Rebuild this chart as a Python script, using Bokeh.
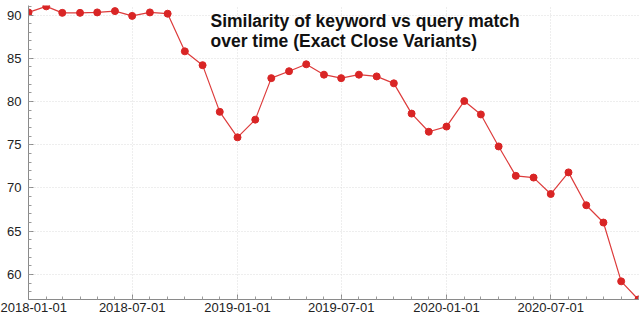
import datetime as dt
import pandas as pd
from bokeh.plotting import figure
from bokeh.models import (Range1d, FixedTicker, SingleIntervalTicker, DatetimeTickFormatter,
                          Label, ColumnDataSource)
from bokeh.embed import file_html
from bokeh.resources import INLINE

# ---- data ----
months = pd.date_range("2018-01-01", "2020-12-01", freq="MS")
similarity = [90.3, 91.0, 90.25, 90.25, 90.3, 90.45, 89.9, 90.3, 90.15,
              85.8, 84.2, 78.8,
              75.85, 77.9, 82.7, 83.5, 84.3, 83.1, 82.7, 83.1, 82.9, 82.1, 78.6, 76.5,
              77.1, 80.05, 78.5, 74.8, 71.4, 71.2, 69.3, 71.8, 68.0, 66.0, 59.2, 57.1]
x_major_ticks = ["2018-01-01", "2018-07-01", "2019-01-01", "2019-07-01",
                 "2020-01-01", "2020-07-01"]
title_text = "Similarity of keyword vs query match\nover time (Exact Close Variants)"

def to_ms(d):
    return pd.Timestamp(d).value // 10**6

src = ColumnDataSource(dict(date=months, sim=similarity))

p = figure(width=639, height=318, x_axis_type="datetime",
           output_backend="svg", toolbar_location=None,
           x_range=Range1d(months[0], months[-1] + dt.timedelta(days=2)),
           y_range=Range1d(57.1, 91.1),
           min_border_left=28, min_border_right=0, min_border_top=5,
           min_border_bottom=19)
p.outline_line_color = None
p.background_fill_color = "white"
p.border_fill_color = "white"

p.line("date", "sim", source=src, line_color="#dd3c3c", line_width=1.2)
p.scatter("date", "sim", source=src, size=7, fill_color="#d92525",
          line_color="#d92525")

# axes
xa = p.xaxis[0]
xa.ticker = FixedTicker(ticks=[to_ms(d) for d in x_major_ticks],
                        minor_ticks=[to_ms(d) for d in months])
xa.formatter = DatetimeTickFormatter(months="%Y-%m-%d", days="%Y-%m-%d")
ya = p.yaxis[0]
ya.ticker = SingleIntervalTicker(interval=5, num_minor_ticks=5)

for ax in (xa, ya):
    ax.axis_line_color = "#8a8a8a"
    ax.major_tick_line_color = "#8a8a8a"
    ax.minor_tick_line_color = "#9a9a9a"
    ax.major_tick_in = 5
    ax.major_tick_out = 0
    ax.minor_tick_in = 3
    ax.minor_tick_out = 0
    ax.major_label_text_font = "Liberation Sans"
    ax.major_label_text_font_size = "13px"
    ax.major_label_text_color = "#222222"
xa.major_label_standoff = 3
ya.major_label_standoff = 7

for g in (p.xgrid[0], p.ygrid[0]):
    g.grid_line_color = "#dddddd"
    g.grid_line_dash = "1 2"
    g.grid_line_width = 1

p.add_layout(Label(x=182, y=294 - 5, x_units="screen", y_units="screen",
                   text=title_text, text_font="Liberation Sans",
                   text_font_style="bold", text_font_size="17.5px",
                   text_color="#111111", text_baseline="top",
                   text_line_height=1.0))

open("out.html", "w").write(file_html(p, INLINE))
